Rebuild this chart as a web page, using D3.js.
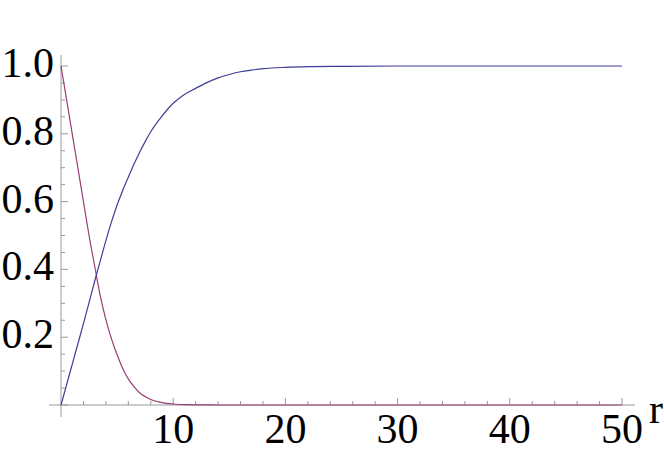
<!DOCTYPE html>
<html><head><meta charset="utf-8">
<script src="https://cdn.jsdelivr.net/npm/d3@7"></script>
<style>html,body{margin:0;padding:0;background:#fff;}svg{display:block;}</style>
</head><body>
<script>
const rValues = [0,0.5,1,1.5,2,2.5,3,3.5,4,4.5,5,5.5,6,6.5,7,7.5,8,9,10,11,12,13,14,15,16,17,18,20,22,25,30,35,40,45,50];
const blueValues = [0,0.06,0.12,0.18,0.24,0.302,0.365,0.425,0.485,0.54,0.59,0.633,0.672,0.71,0.745,0.777,0.806,0.852,0.89,0.916,0.934,0.951,0.965,0.975,0.983,0.988,0.992,0.996,0.998,0.999,1,1,1,1,1];
const redValues = [1,0.9,0.8,0.7,0.6,0.5,0.41,0.322,0.252,0.195,0.148,0.108,0.077,0.054,0.036,0.025,0.016,0.007,0.003,0.0012,0.0005,0.0002,0,0,0,0,0,0,0,0,0,0,0,0,0];
const xMajorTicks = [10,20,30,40,50];
const yMajorTicks = [0.2,0.4,0.6,0.8,1.0];
const xLabel = "r";

const W = 664, H = 455;
const svg = d3.select("body").append("svg").attr("width", W).attr("height", H);
svg.append("rect").attr("width", W).attr("height", H).attr("fill", "#fff");

const x = d3.scaleLinear().domain([0, 50]).range([61, 622]);
const y = d3.scaleLinear().domain([0, 1]).range([405, 66]);

const axisColor = "#999";
const font = "'Liberation Serif', 'Times New Roman', serif";

// axes lines
svg.append("line").attr("x1", x(0)).attr("x2", x(0)).attr("y1", 55).attr("y2", 417)
  .attr("stroke", axisColor).attr("stroke-width", 1);
svg.append("line").attr("x1", 49).attr("x2", 635).attr("y1", y(0)).attr("y2", y(0))
  .attr("stroke", axisColor).attr("stroke-width", 1);

// y ticks
const yMinor = d3.range(0, 1.0001, 0.05);
yMinor.forEach(v => {
  const major = Math.abs(Math.round(v * 5) - v * 5) < 1e-6;
  svg.append("line").attr("x1", x(0)).attr("x2", x(0) + (major ? 7 : 4))
    .attr("y1", y(v)).attr("y2", y(v)).attr("stroke", axisColor).attr("stroke-width", 1);
});
// x ticks
const xMinor = d3.range(2, 50.001, 2);
xMinor.forEach(v => {
  const major = v % 10 === 0;
  svg.append("line").attr("x1", x(v)).attr("x2", x(v))
    .attr("y1", y(0)).attr("y2", y(0) - (major ? 7 : 4)).attr("stroke", axisColor).attr("stroke-width", 1);
});

// labels
svg.selectAll(".yl").data(yMajorTicks).enter().append("text")
  .attr("x", 54).attr("y", d => y(d) + 11)
  .attr("text-anchor", "end").attr("font-family", font).attr("font-size", 42)
  .attr("fill", "#000").text(d => d3.format(".1f")(d));
svg.selectAll(".xl").data(xMajorTicks).enter().append("text")
  .attr("x", d => x(d)).attr("y", 443)
  .attr("text-anchor", "middle").attr("font-family", font).attr("font-size", 42)
  .attr("fill", "#000").text(d => d);
svg.append("text").attr("x", 649).attr("y", 423).attr("font-family", font).attr("font-size", 42)
  .attr("fill", "#000").text(xLabel);

// curves
const blueData = rValues.map((r, i) => [r, blueValues[i]]);
const redData = rValues.map((r, i) => [r, redValues[i]]);
const line = d3.line().x(d => x(d[0])).y(d => y(d[1])).curve(d3.curveMonotoneX);
svg.append("path").attr("d", line(redData)).attr("fill", "none")
  .attr("stroke", "#993d74").attr("stroke-width", 1.2);
svg.append("path").attr("d", line(blueData)).attr("fill", "none")
  .attr("stroke", "#3d3d99").attr("stroke-width", 1.2);
</script>
</body></html>
